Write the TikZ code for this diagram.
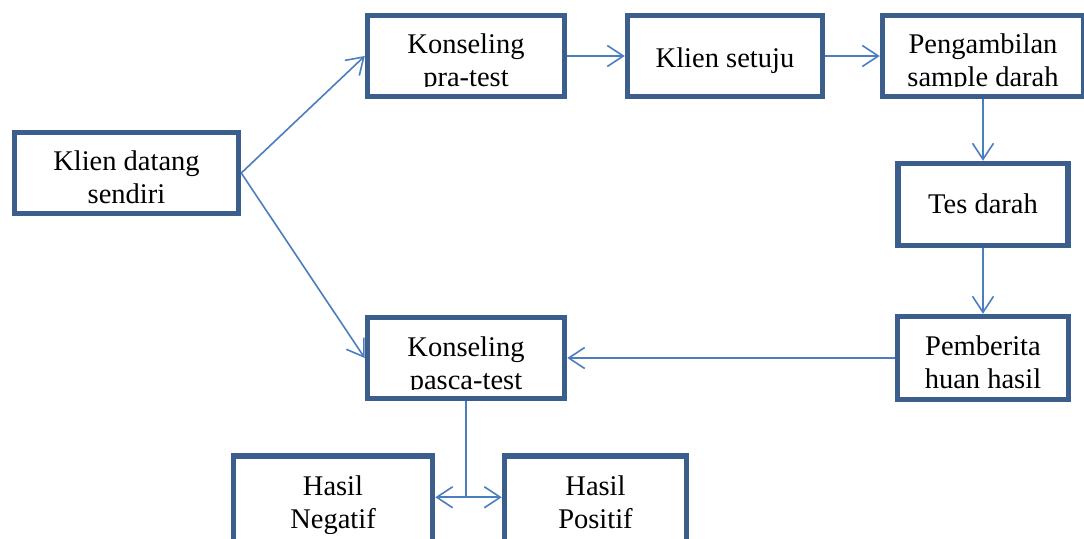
\documentclass[tikz,border=0pt]{standalone}
\usepackage{fontspec}
\setmainfont{Liberation Serif}
\usetikzlibrary{arrows.meta,calc}
\definecolor{boxc}{HTML}{3B5E8C}
\definecolor{linec}{HTML}{4A7EBF}
\newcommand\sx{\rule{0pt}{21pt}\rule[-7pt]{0pt}{7pt}}
\tikzset{
  box/.style={draw=boxc, line width=5.5pt, fill=white, rectangle, inner sep=0pt},
  txt/.style={align=center, inner sep=0pt, anchor=north, font=\fontsize{28.5}{33}\selectfont},
  arr/.style={draw=linec, line width=1.6pt, -{Straight Barb[length=16pt,width=21pt,line width=1.6pt]}},
  ln/.style={draw=linec, line width=1.6pt}
}
\begin{document}
\begin{tikzpicture}[x=1pt,y=-1pt]
\useasboundingbox (0,0) rectangle (1084,538);
% boxes
\node[box, minimum width=224pt, minimum height=81pt] (A) at (126.5,173) {};
\node[box, minimum width=197pt, minimum height=81pt] (B) at (466,56) {};
\node[box, minimum width=195pt, minimum height=81pt] (C) at (725,56) {};
\node[box, minimum width=201pt, minimum height=81pt] (D) at (983,56) {};
\node[box, minimum width=170pt, minimum height=82pt] (E) at (983,204.5) {};
\node[box, minimum width=171pt, minimum height=83pt] (F) at (983,358) {};
\node[box, minimum width=197pt, minimum height=81pt] (G) at (466,358) {};
\node[box, minimum width=199pt, minimum height=100pt] (H) at (333,506) {};
\node[box, minimum width=182pt, minimum height=100pt] (I) at (595.5,506) {};
% texts
\node[txt] (tA) at (126.5,149) {\sx Klien datang\\\sx sendiri};
\begin{scope}
\clip (360,0) rectangle (572,86.5);
\node[txt] (tB) at (466,32) {\sx Konseling\\\sx pra-test};
\end{scope}
\node[txt] (tC) at (725,46) {\sx Klien setuju};
\begin{scope}
\clip (875,0) rectangle (1084,86.5);
\node[txt] (tD) at (983,32) {\sx Pengambilan\\\sx sample darah};
\end{scope}
\node[txt] (tE) at (983,192) {\sx Tes darah};
\begin{scope}
\clip (890,300) rectangle (1084,389);
\node[txt] (tF) at (983,334) {\sx Pemberita\\\sx huan hasil};
\end{scope}
\begin{scope}
\clip (360,300) rectangle (572,389);
\node[txt] (tG) at (466,335) {\sx Konseling\\\sx pasca-test};
\end{scope}
\begin{scope}
\clip (230,450) rectangle (700,533);
\node[txt] (tH) at (333,474) {\sx Hasil\\\sx Negatif};
\node[txt] (tI) at (595.5,474) {\sx Hasil\\\sx Positif};
\end{scope}
% connectors
\draw[arr] (A.east) -- (B.west);
\draw[arr] (A.east) -- (G.west);
\draw[arr] (B.east) -- (C.west);
\draw[arr] (C.east) -- (D.west);
\draw[arr] (D.south -| E.north) -- (E.north);
\draw[arr] (E.south) -- (F.north);
\draw[arr] (F.west) -- (G.east);
\coordinate (J) at ($(G.south)+(0,96)$);
\draw[ln] (G.south) -- (J);
\draw[arr] (J) -- (J -| H.east);
\draw[arr] (J) -- (J -| I.west);
\end{tikzpicture}
\end{document}
